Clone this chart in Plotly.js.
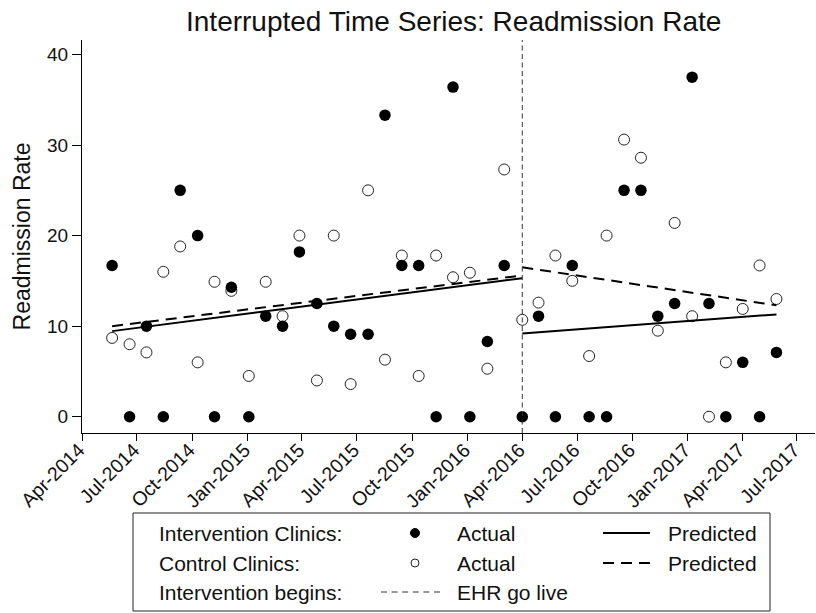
<!DOCTYPE html>
<html>
<head>
<meta charset="utf-8">
<script src="https://cdn.plot.ly/plotly-3.0.1.min.js"></script>
<style>html,body{margin:0;padding:0;background:#fff;}#chart{width:816px;height:613px;}</style>
</head>
<body>
<div id="chart"></div>
<script>
// ---- Data ----
const periodDates = ['2014-05-21','2014-06-19','2014-07-17','2014-08-14','2014-09-11','2014-10-10','2014-11-07','2014-12-05','2015-01-03','2015-01-31','2015-02-28','2015-03-28','2015-04-26','2015-05-24','2015-06-21','2015-07-20','2015-08-17','2015-09-14','2015-10-12','2015-11-10','2015-12-08','2016-01-05','2016-02-03','2016-03-02','2016-04-01','2016-04-28','2016-05-26','2016-06-23','2016-07-21','2016-08-19','2016-09-17','2016-10-15','2016-11-12','2016-12-10','2017-01-08','2017-02-05','2017-03-05','2017-04-02','2017-04-30','2017-05-28'];
const interventionActual = [16.7,0,10.0,0,25.0,20.0,0,14.3,0,11.1,10.0,18.2,12.5,10.0,9.1,9.1,33.3,16.7,16.7,0,36.4,0,8.3,16.7,0,11.1,0,16.7,0,0,25.0,25.0,11.1,12.5,37.5,12.5,0,6.0,0,7.1];
const controlActual = [8.7,8.0,7.1,16.0,18.8,6.0,14.9,13.9,4.5,14.9,11.1,20.0,4.0,20.0,3.6,25.0,6.3,17.8,4.5,17.8,15.4,15.9,5.3,27.3,10.7,12.6,17.8,15.0,6.7,20.0,30.6,28.6,9.5,21.4,11.1,0,6.0,11.9,16.7,13.0];
const goLiveDate = '2016-04-01';
const preSegmentDates = ['2014-05-21','2016-04-01'];
const postSegmentDates = ['2016-04-01','2017-05-28'];
const interventionPredPre = [9.45, 15.3];
const interventionPredPost = [9.2, 11.3];
const controlPredPre = [10.0, 15.6];
const controlPredPost = [16.5, 12.3];
const yTickVals = [0,10,20,30,40];
const xRange = ['2014-04-01','2017-07-31'];
const yRange = [-1.8, 41.6];

// ---- Layout helpers ----
const W = 816, H = 613;
const M = {l:82, r:1, t:40, b:180};
const PW = W - M.l - M.r, PH = H - M.t - M.b;
const PX = x => (x - M.l) / PW;
const PY = y => (H - M.b - y) / PH;
const FONT = 'Liberation Sans, Arial, sans-serif';

const traces = [
  {x: periodDates, y: controlActual, type:'scatter', mode:'markers', name:'Control Actual',
   marker:{symbol:'circle', size:11, color:'#fff', line:{color:'#222', width:1}}},
  {x: periodDates, y: interventionActual, type:'scatter', mode:'markers', name:'Intervention Actual',
   marker:{symbol:'circle', size:11.5, color:'#000', line:{color:'#000', width:0}}},
  {x: preSegmentDates, y: interventionPredPre, type:'scatter', mode:'lines', name:'Intervention Predicted',
   line:{color:'#000', width:2}},
  {x: postSegmentDates, y: interventionPredPost, type:'scatter', mode:'lines', name:'Intervention Predicted post',
   line:{color:'#000', width:2}},
  {x: preSegmentDates, y: controlPredPre, type:'scatter', mode:'lines', name:'Control Predicted',
   line:{color:'#000', width:2, dash:'11px,7px'}},
  {x: postSegmentDates, y: controlPredPost, type:'scatter', mode:'lines', name:'Control Predicted post',
   line:{color:'#000', width:2, dash:'11px,7px'}}
];

const rowY = [533, 563, 592];
const legFont = {family: FONT, size: 21, color:'#111'};
const ann = (text, x, y) => ({text, x: PX(x), y: PY(y), xref:'paper', yref:'paper',
  xanchor:'left', yanchor:'middle', showarrow:false, font: legFont});

const shapes = [
  {type:'line', xref:'x', yref:'paper', x0: goLiveDate, x1: goLiveDate, y0:0, y1:1,
   line:{color:'#333', width:1, dash:'5px,3.5px'}},
  // legend frame
  {type:'rect', xref:'paper', yref:'paper', x0:PX(133), x1:PX(770), y0:PY(611), y1:PY(513),
   line:{color:'#222', width:1}, fillcolor:'#fff'},
  {type:'circle', xref:'paper', yref:'paper', xsizemode:'pixel', ysizemode:'pixel',
   xanchor:PX(415), yanchor:PY(rowY[0]), x0:-4.5, x1:4.5, y0:-4.5, y1:4.5,
   fillcolor:'#000', line:{color:'#000', width:1}},
  {type:'circle', xref:'paper', yref:'paper', xsizemode:'pixel', ysizemode:'pixel',
   xanchor:PX(415), yanchor:PY(rowY[1]), x0:-4, x1:4, y0:-4, y1:4,
   fillcolor:'#fff', line:{color:'#222', width:1}},
  {type:'line', xref:'paper', yref:'paper', x0:PX(603), x1:PX(650), y0:PY(rowY[0]), y1:PY(rowY[0]),
   line:{color:'#000', width:2}},
  {type:'line', xref:'paper', yref:'paper', x0:PX(603), x1:PX(650), y0:PY(rowY[1]), y1:PY(rowY[1]),
   line:{color:'#000', width:2, dash:'11px,7px'}},
  {type:'line', xref:'paper', yref:'paper', x0:PX(381), x1:PX(440), y0:PY(rowY[2]), y1:PY(rowY[2]),
   line:{color:'#333', width:1, dash:'6px,4.6px'}}
];

const annotations = [
  ann('Intervention Clinics:', 157, rowY[0]),
  ann('Control Clinics:', 157, rowY[1]),
  ann('Intervention begins:', 157, rowY[2]),
  ann('Actual', 455, rowY[0]),
  ann('Actual', 455, rowY[1]),
  ann('EHR go live', 455, rowY[2]),
  ann('Predicted', 666, rowY[0]),
  ann('Predicted', 666, rowY[1])
];

const layout = {
  width: W, height: H,
  margin: M,
  paper_bgcolor:'#fff', plot_bgcolor:'#fff',
  font:{family: FONT, color:'#111'},
  showlegend:false,
  title:{text:'Interrupted Time Series: Readmission Rate', font:{family:FONT, size:28, color:'#111'},
         xref:'container', x:0.556, yref:'container', y:0.966, yanchor:'middle'},
  xaxis:{type:'date', range:xRange, tick0:'2014-04-01', dtick:'M3', tickformat:'%b-%Y',
         tickangle:-45, ticks:'outside', ticklen:7, tickcolor:'#000', tickwidth:1,
         ticklabelstandoff:-10, ticklabelshift:-3,
         showline:true, linecolor:'#000', linewidth:1, showgrid:false, zeroline:false,
         tickfont:{family:FONT, size:19.5, color:'#111'}},
  yaxis:{range:yRange, tickvals:yTickVals, ticks:'outside', ticklen:9, tickcolor:'#000', tickwidth:1,
         showline:true, linecolor:'#000', linewidth:1, showgrid:false, zeroline:false,
         tickfont:{family:FONT, size:19, color:'#111'},
         title:{text:'Readmission Rate', font:{family:FONT, size:23, color:'#111'}, standoff:10}},
  shapes, annotations
};

Plotly.newPlot('chart', traces, layout, {displayModeBar:false, staticPlot:true});
</script>
</body>
</html>
